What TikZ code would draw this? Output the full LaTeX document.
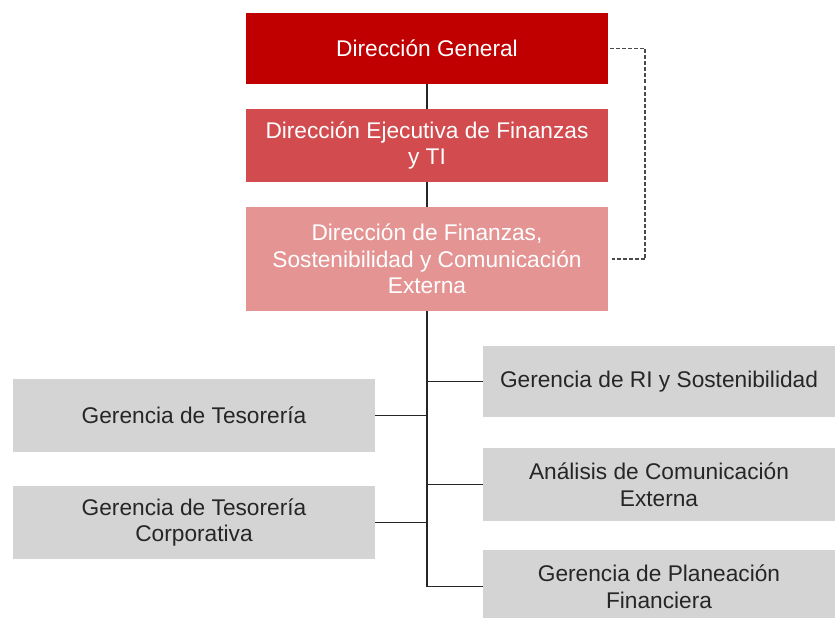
\documentclass[tikz,border=0pt]{standalone}
\usepackage{fontspec}
\setmainfont{Liberation Sans}
\definecolor{dgred}{HTML}{C00000}
\definecolor{defred}{HTML}{D24B4E}
\definecolor{dfspink}{HTML}{E59494}
\definecolor{boxgray}{HTML}{D4D4D4}
\definecolor{txtgray}{HTML}{262626}
\definecolor{linegray}{HTML}{262626}
\definecolor{dashgray}{HTML}{4A4A4A}
\tikzset{
  orgbox/.style={rectangle, draw=none, inner sep=0pt, align=center,
    font=\fontsize{22.7}{26.7}\selectfont},
  topbox/.style={orgbox, text=white, minimum width=362pt},
  graybox/.style={orgbox, fill=boxgray, text=txtgray},
  conn/.style={draw=linegray, line width=1.4pt},
  dashconn/.style={draw=dashgray, line width=1.5pt, dash pattern=on 4pt off 2pt}
}
\begin{document}
\begin{tikzpicture}[x=1pt,y=-1pt]
\useasboundingbox (0,0) rectangle (835,618);
\clip (0,0) rectangle (835,618);
\fill[white] (0,0) rectangle (835,618);
\node[topbox, fill=dgred, minimum height=71pt] (dg) at (427,48.5) {Dirección General};
\node[topbox, fill=defred, minimum height=73pt] (def) at (427,145.5) {Dirección Ejecutiva de Finanzas\\y TI};
\node[topbox, fill=dfspink, minimum height=104pt] (dfs) at (427,259) {Dirección de Finanzas,\\Sostenibilidad y Comunicación\\Externa};
\node[graybox, minimum width=362pt, minimum height=73pt] (gt) at (194,415.5) {Gerencia de Tesorería};
\node[graybox, minimum width=362pt, minimum height=73pt] (gtc) at (194,522.5) {Gerencia de Tesorería\\Corporativa};
\node[graybox, minimum width=352pt, minimum height=71pt] (ri) at (659,381.5) {Gerencia de RI y Sostenibilidad};
\node[graybox, minimum width=352pt, minimum height=73pt] (ace) at (659,484.5) {Análisis de Comunicación\\Externa};
\node[graybox, minimum width=352pt, minimum height=73pt] (gpf) at (659,586.5) {Gerencia de Planeación\\Financiera};
\draw[conn] (dg.south) -- (def.north);
\draw[conn] (def.south) -- (dfs.north);
\coordinate (trunkend) at (dfs.south |- gpf.west);
\draw[conn] (dfs.south) -- (trunkend);
\draw[conn] (gt.east) -- (gt.east -| dfs.south);
\draw[conn] (gtc.east) -- (gtc.east -| dfs.south);
\draw[conn] (ri.west) -- (ri.west -| dfs.south);
\draw[conn] (ace.west) -- (ace.west -| dfs.south);
\draw[conn] (gpf.west) -- (trunkend);
\draw[dashconn] ([xshift=2pt]dg.east) -- ++(35,0) |- ([xshift=4pt]dfs.east);
\end{tikzpicture}
\end{document}
